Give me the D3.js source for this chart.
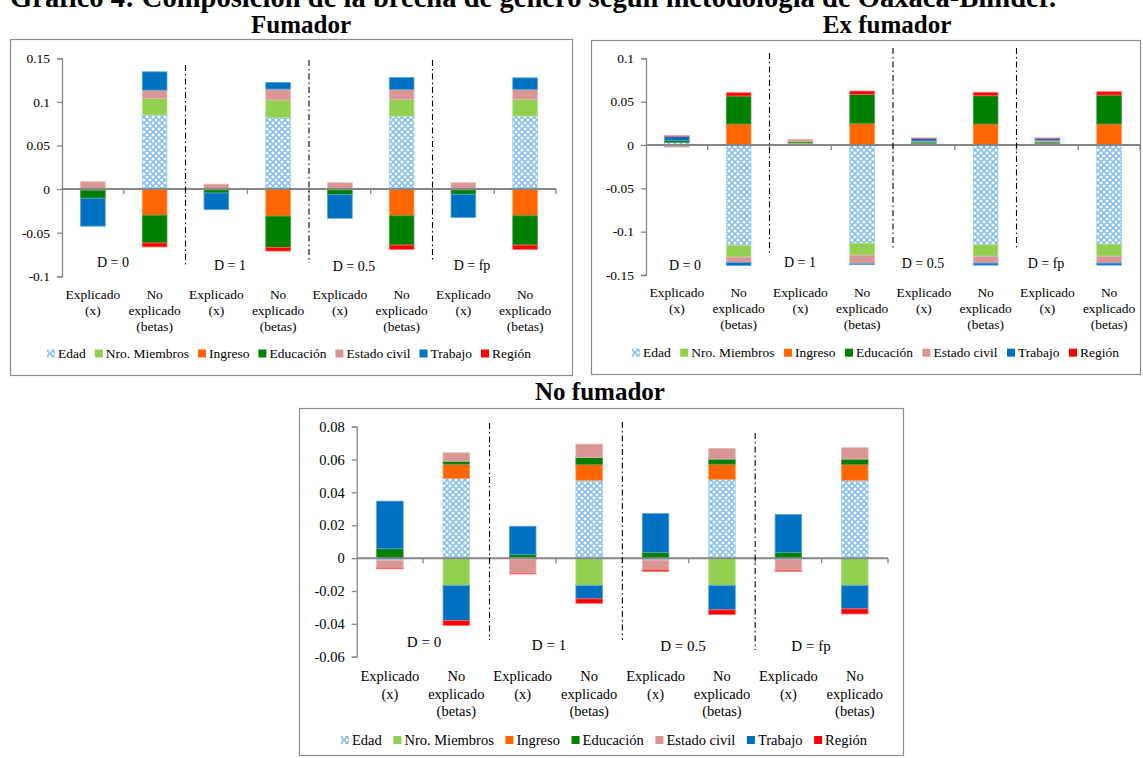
<!DOCTYPE html>
<html><head><meta charset="utf-8">
<script src="https://cdn.jsdelivr.net/npm/d3@7"></script>
<style>
body{margin:0;background:#fff}
svg{display:block}
svg text{font-family:"Liberation Serif","Times New Roman",serif !important;fill:#000}
</style>
</head><body>
<svg id="c" width="1143" height="758"></svg>
<script>
// ---------- data ----------
const mainTitle = "Gráfico 4: Composición de la brecha de género según metodología de Oaxaca-Blinder.";
const panelTitles = ["Fumador", "Ex fumador", "No fumador"];
const seriesNames = ["Edad", "Nro. Miembros", "Ingreso", "Educación", "Estado civil", "Trabajo", "Región"];
const categories = [
  "Explicado\n(x)", "No\nexplicado\n(betas)",
  "Explicado\n(x)", "No\nexplicado\n(betas)",
  "Explicado\n(x)", "No\nexplicado\n(betas)",
  "Explicado\n(x)", "No\nexplicado\n(betas)"
];
const dLabels = ["D = 0", "D = 1", "D = 0.5", "D = fp"];

const fumTicks = [-0.1, -0.05, 0, 0.05, 0.1, 0.15];
const exTicks  = [-0.15, -0.1, -0.05, 0, 0.05, 0.1];
const noTicks  = [-0.06, -0.04, -0.02, 0, 0.02, 0.04, 0.06, 0.08];

// Fumador
const fumEdad     = [-0.0015, 0.085, -0.001, 0.0822, -0.001, 0.0837, -0.001, 0.0837];
const fumMiembros = [0, 0.019, 0, 0.020, 0, 0.019, 0, 0.019];
const fumIngreso  = [0, -0.030, 0, -0.031, 0, -0.0306, 0, -0.0306];
const fumEduc     = [-0.009, -0.0318, -0.0035, -0.0359, -0.0055, -0.0336, -0.005, -0.0336];
const fumCivil    = [0.0085, 0.0095, 0.0057, 0.0125, 0.0073, 0.0115, 0.0073, 0.0115];
const fumTrabajo  = [-0.032, 0.021, -0.019, 0.0076, -0.027, 0.0138, -0.0265, 0.0134];
const fumRegion   = [0, -0.0045, 0, -0.0042, 0, -0.005, 0, -0.005];

// Ex fumador
const exEdad     = [0.003, -0.116, 0.001, -0.1133, 0.002, -0.1152, 0.002, -0.1144];
const exMiembros = [0, -0.0134, 0.0015, -0.0138, 0, -0.0131, 0, -0.0139];
const exIngreso  = [0, 0.0242, 0, 0.025, 0, 0.0242, 0, 0.0242];
const exEduc     = [0.002, 0.0323, 0.0015, 0.0334, 0.0015, 0.0326, 0.0015, 0.0334];
const exCivil    = [-0.0025, -0.0062, 0.0025, -0.010, 0.001, -0.008, 0.0015, -0.008];
const exTrabajo  = [0.005, -0.0035, 0, -0.001, 0.003, -0.0023, 0.0025, -0.0023];
const exRegion   = [0.0005, 0.0038, 0, 0.0038, 0.0005, 0.0039, 0.0005, 0.0038];

// No fumador
const noEdad     = [-0.0015, 0.0485, 0.0005, 0.0474, -0.0012, 0.048, -0.001, 0.0474];
const noMiembros = [0, -0.0167, 0, -0.0167, 0, -0.0167, 0, -0.0167];
const noIngreso  = [0, 0.0087, -0.0008, 0.0096, 0, 0.0092, 0, 0.0096];
const noEduc     = [0.0057, 0.0018, 0.0017, 0.0043, 0.0035, 0.0031, 0.0035, 0.0033];
const noCivil    = [-0.0045, 0.0051, -0.0085, 0.0081, -0.006, 0.0065, -0.0065, 0.0069];
const noTrabajo  = [0.029, -0.0213, 0.0172, -0.0081, 0.0236, -0.0148, 0.023, -0.0142];
const noRegion   = [-0.0005, -0.003, -0.0003, -0.0027, -0.0008, -0.0029, -0.0005, -0.0031];

// ---------- styles ----------
const seriesColors = ["url(#edadPat)", "#92D050", "#FF6600", "#008000", "#D99694", "#0070C0", "#FF0000"];
const seriesStroke = ["#9fd0f7", "#b5e08a", "#ff9a55", "#4a9a4a", "#e8b8b6", "#5aa4dc", "#ff6a6a"];
const axisColor = "#868686";

const svg = d3.select("#c");
const defs = svg.append("defs");
const pat = defs.append("pattern").attr("id", "edadPat")
  .attr("patternUnits", "userSpaceOnUse").attr("width", 6).attr("height", 6);
pat.append("rect").attr("width", 6).attr("height", 6).attr("fill", "#4fa3ee");
[[0,0],[6,0],[0,6],[6,6],[3,3]].forEach(([cx,cy]) =>
  pat.append("circle").attr("cx", cx).attr("cy", cy).attr("r", 1.8).attr("fill", "#fff"));
[[3,0],[0,3],[6,3],[3,6]].forEach(([cx,cy]) =>
  pat.append("circle").attr("cx", cx).attr("cy", cy).attr("r", 0.7).attr("fill", "#d8ecfc"));

// main title (partially cut off at top, as in the reference)
svg.append("text").attr("x", 10).attr("y", 7)
  .attr("font-size", 28.5).attr("font-weight", "bold")
  .attr("textLength", 1046).attr("lengthAdjust", "spacing")
  .text(mainTitle);

function drawPanel(cfg) {
  const g = svg.append("g");
  const fs = cfg.fontSize;
  g.append("rect").attr("x", cfg.frame[0] + 0.5).attr("y", cfg.frame[1] + 0.5)
    .attr("width", cfg.frame[2]).attr("height", cfg.frame[3])
    .attr("fill", "none").attr("stroke", "#8c8c8c").attr("stroke-width", 1.2);
  svg.append("text").attr("x", cfg.title[0]).attr("y", cfg.title[1])
    .attr("text-anchor", "middle").attr("font-size", 25).attr("font-weight", "bold")
    .text(cfg.name);

  const x = d3.scaleBand().domain(d3.range(categories.length))
    .range([cfg.x0, cfg.x1]).paddingInner(0.6).paddingOuter(0.3);
  const y = d3.scaleLinear().domain([cfg.ticks[0], cfg.ticks[cfg.ticks.length - 1]])
    .range([cfg.yBottom, cfg.yTop]);

  const rows = categories.map((c, i) => {
    const o = { idx: i };
    seriesNames.forEach((s, k) => o[s] = cfg.values[k][i]);
    return o;
  });
  const stacked = d3.stack().keys(seriesNames).offset(d3.stackOffsetDiverging)(rows);

  stacked.forEach((layer, k) => {
    g.append("g").selectAll("rect")
      .data(layer.filter(d => d[1] !== d[0]))
      .join("rect")
      .attr("x", d => x(d.data.idx))
      .attr("width", x.bandwidth())
      .attr("y", d => y(Math.max(d[0], d[1])))
      .attr("height", d => Math.abs(y(d[0]) - y(d[1])))
      .attr("fill", seriesColors[k])
      .attr("stroke", seriesStroke[k]).attr("stroke-width", 0.8);
  });

  const yAxis = d3.axisLeft(y).tickValues(cfg.ticks).tickSize(5).tickPadding(7)
    .tickFormat(d => d === 0 ? "0" : String(d));
  const ya = g.append("g").attr("transform", `translate(${cfg.x0},0)`).call(yAxis)
    .attr("font-family", null).attr("font-size", null);
  ya.select(".domain").attr("stroke", axisColor).attr("stroke-width", 1.3);
  ya.selectAll(".tick line").attr("stroke", axisColor).attr("stroke-width", 1.3);
  ya.selectAll(".tick text").attr("font-size", fs).attr("fill", "#000");

  const y0 = y(0);
  g.append("line").attr("x1", cfg.x0).attr("x2", cfg.x1).attr("y1", y0).attr("y2", y0)
    .attr("stroke", axisColor).attr("stroke-width", 2);
  const step = x.step();
  d3.range(1, categories.length + 1).forEach(k => {
    const xx = cfg.x0 + k * step;
    g.append("line").attr("x1", xx).attr("x2", xx).attr("y1", y0).attr("y2", y0 + 5)
      .attr("stroke", axisColor).attr("stroke-width", 1.3);
  });

  categories.forEach((c, i) => {
    const t = g.append("text").attr("text-anchor", "middle").attr("font-size", fs);
    c.split("\n").forEach((line, j) => {
      t.append("tspan").attr("x", x(i) + x.bandwidth() / 2)
        .attr("y", cfg.catY + j * cfg.catLH).text(line);
    });
  });

  cfg.seps.forEach((s, k) => {
    const xx = cfg.x0 + (2 * k + 2) * step;
    g.append("line").attr("x1", xx).attr("x2", xx).attr("y1", s[0]).attr("y2", s[1])
      .attr("stroke", "#000").attr("stroke-width", 1.1)
      .attr("stroke-dasharray", "6,3,1.5,3");
  });

  dLabels.forEach((d, k) => {
    g.append("text").attr("x", cfg.dPos[k][0]).attr("y", cfg.dPos[k][1] + 5)
      .attr("text-anchor", "middle").attr("font-size", cfg.dFont).text(d);
  });

  const lg = g.append("g");
  const sw = 8, gap = 3;
  const items = seriesNames.map((s, k) => {
    const ig = lg.append("g");
    ig.append("rect").attr("width", sw).attr("height", sw).attr("y", -sw / 2)
      .attr("fill", seriesColors[k]);
    const t = ig.append("text").attr("x", sw + gap).attr("y", fs * 0.35)
      .attr("font-size", fs).text(s);
    return { g: ig, w: sw + gap + t.node().getComputedTextLength() };
  });
  const total = d3.sum(items, d => d.w);
  const spacing = (cfg.legend[1] - cfg.legend[0] - total) / (items.length - 1);
  let cx = cfg.legend[0];
  items.forEach(it => {
    it.g.attr("transform", `translate(${cx},${cfg.legend[2]})`);
    cx += it.w + spacing;
  });
}

drawPanel({
  name: panelTitles[0],
  frame: [10, 39, 562, 336],
  title: [301, 33],
  x0: 62, x1: 556, yTop: 58.3, yBottom: 276.3,
  ticks: fumTicks,
  values: [fumEdad, fumMiembros, fumIngreso, fumEduc, fumCivil, fumTrabajo, fumRegion],
  fontSize: 13.5, catY: 299, catLH: 16,
  seps: [[65, 267], [60, 263], [60, 262]],
  dPos: [[113, 262], [230, 265], [354, 266], [472, 265]], dFont: 14,
  legend: [47, 531, 353.5]
});

drawPanel({
  name: panelTitles[1],
  frame: [591, 40, 549, 334],
  title: [887, 33],
  x0: 646, x1: 1140, yTop: 58.3, yBottom: 275,
  ticks: exTicks,
  values: [exEdad, exMiembros, exIngreso, exEduc, exCivil, exTrabajo, exRegion],
  fontSize: 13.5, catY: 296.5, catLH: 16,
  seps: [[53, 255], [48, 250], [48, 250]],
  dPos: [[685, 265], [800, 262], [923, 263], [1046, 263]], dFont: 14,
  legend: [632, 1119, 352.7]
});

drawPanel({
  name: panelTitles[2],
  frame: [299, 408, 604, 347],
  title: [600, 400],
  x0: 356.7, x1: 888, yTop: 426.7, yBottom: 656.7,
  ticks: noTicks,
  values: [noEdad, noMiembros, noIngreso, noEduc, noCivil, noTrabajo, noRegion],
  fontSize: 14.5, catY: 681, catLH: 17.5,
  seps: [[423, 640], [422, 640], [433, 650]],
  dPos: [[424, 642], [549, 645], [683, 646], [811, 646]], dFont: 15,
  legend: [341, 867, 740]
});
</script>
</body></html>
